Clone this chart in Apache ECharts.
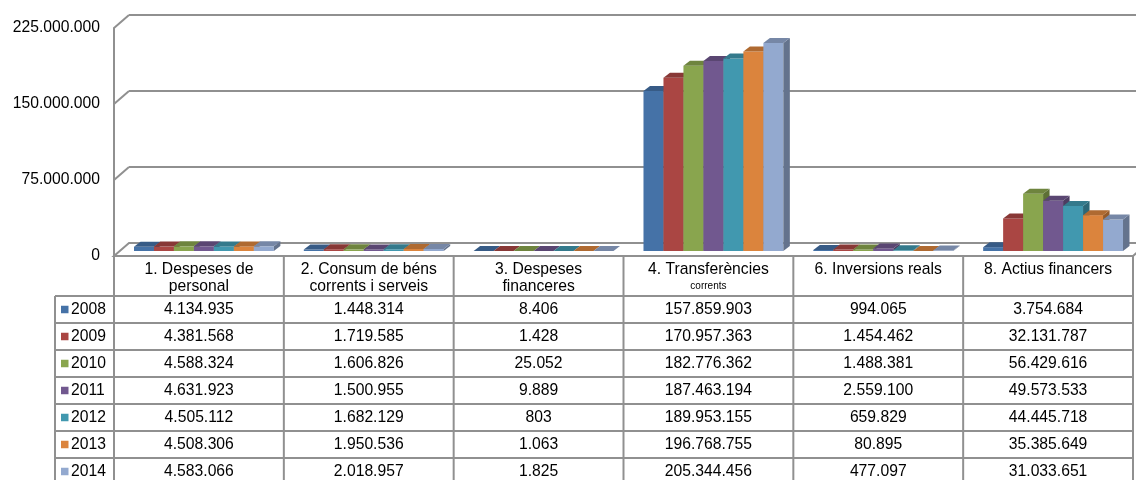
<!DOCTYPE html>
<html>
<head>
<meta charset="utf-8">
<script src="https://cdn.jsdelivr.net/npm/echarts@6/dist/echarts.min.js"></script>
<style>
  html, body { margin: 0; padding: 0; background: #ffffff; }
  #chart { width: 1136px; height: 480px; }
</style>
</head>
<body>
<div id="chart"></div>
<script>
// Budget chapters (column headers of the data table)
const categories = [
  '1. Despeses de\npersonal',
  '2. Consum de béns\ncorrents i serveis',
  '3. Despeses\nfinanceres',
  '4. Transferències\ncorrents',
  '6. Inversions reals',
  '8. Actius financers'
];

const years = ['2008', '2009', '2010', '2011', '2012', '2013', '2014'];

// Amounts per year, one value per chapter
const v2008 = [4134935, 1448314, 8406, 157859903, 994065, 3754684];
const v2009 = [4381568, 1719585, 1428, 170957363, 1454462, 32131787];
const v2010 = [4588324, 1606826, 25052, 182776362, 1488381, 56429616];
const v2011 = [4631923, 1500955, 9889, 187463194, 2559100, 49573533];
const v2012 = [4505112, 1682129, 803, 189953155, 659829, 44445718];
const v2013 = [4508306, 1950536, 1063, 196768755, 80895, 35385649];
const v2014 = [4583066, 2018957, 1825, 205344456, 477097, 31033651];
const yearValues = [v2008, v2009, v2010, v2011, v2012, v2013, v2014];

// Value axis ticks
const yTicks = [0, 75000000, 150000000, 225000000];

const colors = ['#4572A7', '#AA4643', '#89A54E', '#71588F', '#4198AF', '#DB843D', '#93A9CF'];

const FONT_FAMILY = '"Liberation Sans", Arial, sans-serif';
const FONT = '15.7px ' + FONT_FAMILY;
const SMALL_FONT = '10px ' + FONT_FAMILY;
const LINE = '#909090';
const LINE_W = 2;

// Oblique projection: floor / wall depth and bar placement inside it
const DEPTH = [15, -13];
const BAR_OFF = [5, -5];
const BAR_DEPTH = [6.5, -5];
const BAR_GAP = 30 / 170;

// Table layout
const HEAD_H = 40;
const ROW_H = 27;
const LEGEND_LEFT = 55;
const HEAD_LINE_1 = 14;
const HEAD_LINE_2 = 30.5;
// header lines that Excel shrank inside their cell: [categoryIndex, lineIndex]
const shrunkHeaderLines = [[3, 1]];

function fmt(n) {
  return String(n).replace(/\B(?=(\d{3})+(?!\d))/g, '.');
}

function shade(hex, k) {
  const n = parseInt(hex.slice(1), 16);
  const r = Math.round(((n >> 16) & 255) * k);
  const g = Math.round(((n >> 8) & 255) * k);
  const b = Math.round((n & 255) * k);
  return 'rgb(' + r + ',' + g + ',' + b + ')';
}

function line(x1, y1, x2, y2) {
  return {
    type: 'line',
    shape: { x1: x1, y1: y1, x2: x2, y2: y2 },
    style: { stroke: LINE, lineWidth: LINE_W }
  };
}

function text(str, x, y, align, font) {
  return {
    type: 'text',
    style: {
      text: str, x: x, y: y,
      align: align, verticalAlign: 'middle',
      font: font || FONT, fill: '#000000'
    }
  };
}

// Back wall, side wall and floor
function renderWalls(params, api) {
  const cs = params.coordSys;
  const x0 = cs.x, x1 = cs.x + cs.width;
  const v = api.value(1);
  const y = api.coord([0, v])[1];
  const children = [];
  if (v === 0) {
    children.push({
      type: 'polygon',
      shape: { points: [[x0, y], [x1, y], [x1 + DEPTH[0], y + DEPTH[1]], [x0 + DEPTH[0], y + DEPTH[1]]] },
      style: { fill: '#ffffff', stroke: LINE, lineWidth: LINE_W }
    });
  } else {
    children.push(line(x0 + DEPTH[0], y + DEPTH[1], x1 + DEPTH[0] + 20, y + DEPTH[1]));
    children.push(line(x0, y, x0 + DEPTH[0], y + DEPTH[1]));
  }
  return { type: 'group', children: children };
}

// 3D column: front face, right side and top
function makeBarRenderer(si) {
  const front = colors[si];
  const side = shade(colors[si], 0.68);
  const top = shade(colors[si], 0.8);
  return function (params, api) {
    const ci = api.value(0);
    const v = api.value(1);
    const base = api.coord([ci, 0]);
    const head = api.coord([ci, v]);
    const band = api.size([1, 0])[0];
    const inner = band * (1 - BAR_GAP);
    const bw = inner / years.length;
    const xl = base[0] - inner / 2 + si * bw + BAR_OFF[0];
    const xr = xl + bw;
    const yb = base[1] + BAR_OFF[1];
    const yt = head[1] + BAR_OFF[1];
    const dx = BAR_DEPTH[0], dy = BAR_DEPTH[1];
    return {
      type: 'group',
      children: [
        { type: 'rect', shape: { x: xl, y: yt, width: bw, height: Math.max(yb - yt, 0) }, style: { fill: front } },
        { type: 'polygon', shape: { points: [[xr, yb], [xr + dx, yb + dy], [xr + dx, yt + dy], [xr, yt]] }, style: { fill: side } },
        { type: 'polygon', shape: { points: [[xl, yt], [xr, yt], [xr + dx, yt + dy], [xl + dx, yt + dy]] }, style: { fill: top } }
      ]
    };
  };
}

// Data table: one column per chapter
function renderTableColumn(params, api) {
  const ci = api.value(0);
  const cs = params.coordSys;
  const c = api.coord([ci, 0]);
  const band = api.size([1, 0])[0];
  const xL = c[0] - band / 2, xR = c[0] + band / 2;
  const yTop = c[1];
  const yHead = yTop + HEAD_H;
  const yBottom = yHead + ROW_H * years.length;
  const children = [];
  children.push(line(xR, yTop, xR, yBottom));
  if (ci === 0) children.push(line(xL, yTop, xL, yBottom));
  const parts = categories[ci].split('\n');
  parts.forEach(function (p, li) {
    const small = shrunkHeaderLines.some(function (s) { return s[0] === ci && s[1] === li; });
    children.push(text(p, c[0], yTop + (li === 0 ? HEAD_LINE_1 : HEAD_LINE_2), 'center', small ? SMALL_FONT : FONT));
  });
  years.forEach(function (yr, k) {
    children.push(text(fmt(yearValues[k][ci]), c[0], yHead + ROW_H * (k + 0.5), 'center'));
  });
  return { type: 'group', children: children };
}

// Data table: one row per year with its legend key
function renderTableRow(params, api) {
  const k = api.value(0);
  const cs = params.coordSys;
  const yTop = api.coord([0, 0])[1];
  const yRow = yTop + HEAD_H + ROW_H * k;
  const xRight = cs.x + cs.width;
  const children = [];
  children.push(line(LEGEND_LEFT, yRow, xRight, yRow));
  children.push(line(LEGEND_LEFT, yRow + ROW_H, xRight, yRow + ROW_H));
  children.push(line(LEGEND_LEFT, yRow, LEGEND_LEFT, yRow + ROW_H));
  if (k === 0) children.push(line(cs.x, yTop, xRight, yTop));
  const cy = yRow + ROW_H / 2;
  children.push({ type: 'rect', shape: { x: 61, y: cy - 3.75, width: 7.5, height: 7.5 }, style: { fill: colors[k] } });
  children.push(text(years[k], 71, cy, 'left'));
  return { type: 'group', children: children };
}

const chart = echarts.init(document.getElementById('chart'), null, { renderer: 'canvas' });

const series = [{
  type: 'custom',
  name: 'walls',
  z: 1,
  silent: true,
  renderItem: renderWalls,
  data: yTicks.map(function (t) { return [0, t]; })
}];

years.forEach(function (yr, si) {
  series.push({
    type: 'custom',
    name: yr,
    z: 2,
    renderItem: makeBarRenderer(si),
    data: yearValues[si].map(function (v, ci) { return [ci, v]; })
  });
});

series.push({
  type: 'custom',
  name: 'table-columns',
  z: 3,
  silent: true,
  renderItem: renderTableColumn,
  data: categories.map(function (c, ci) { return [ci, 0]; })
});

series.push({
  type: 'custom',
  name: 'table-rows',
  z: 3,
  silent: true,
  renderItem: renderTableRow,
  data: years.map(function (y, k) { return [k, 0]; })
});

chart.setOption({
  animation: false,
  backgroundColor: '#ffffff',
  grid: { left: 114, top: 28, width: 1019, height: 228 },
  xAxis: {
    type: 'category',
    data: categories,
    axisLine: { show: false },
    axisTick: { show: false },
    axisLabel: { show: false },
    splitLine: { show: false }
  },
  yAxis: {
    type: 'value',
    min: yTicks[0],
    max: yTicks[yTicks.length - 1],
    interval: yTicks[1] - yTicks[0],
    axisLine: { show: true, lineStyle: { color: LINE, width: LINE_W } },
    axisTick: { show: false },
    splitLine: { show: false },
    axisLabel: {
      margin: 14,
      color: '#000000',
      fontFamily: FONT_FAMILY,
      fontSize: 15.7,
      formatter: function (v) { return fmt(v); }
    }
  },
  series: series
});
</script>
</body>
</html>
